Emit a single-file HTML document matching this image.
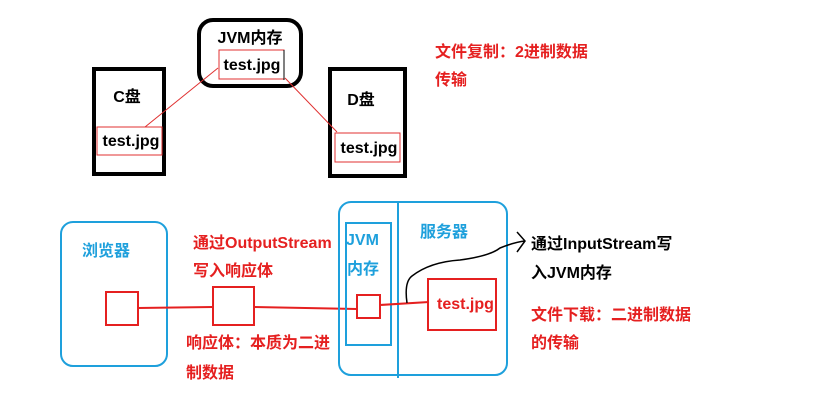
<!DOCTYPE html>
<html><head><meta charset="utf-8"><style>
body{margin:0;width:839px;height:407px;background:#fff;overflow:hidden}
svg text{font-family:"Liberation Sans","Noto Sans CJK SC",sans-serif;font-weight:bold}
</style></head><body>
<svg width="839" height="407" xmlns="http://www.w3.org/2000/svg">
<rect x="199" y="20" width="102" height="66" rx="14" fill="none" stroke="#000" stroke-width="4"/>
<text x="250" y="43" font-size="16" text-anchor="middle">JVM内存</text>
<rect x="219" y="50" width="65" height="29" fill="none" stroke="#e03030" stroke-width="1"/>
<line x1="284" y1="50" x2="284" y2="80" stroke="#000" stroke-width="1"/>
<text x="252" y="70" font-size="16" text-anchor="middle">test.jpg</text>

<rect x="94" y="69" width="70" height="105" fill="none" stroke="#000" stroke-width="4"/>
<text x="127" y="102" font-size="16" text-anchor="middle">C盘</text>
<rect x="97" y="127" width="65" height="28" fill="none" stroke="#e03030" stroke-width="1"/>
<text x="131" y="146" font-size="16" text-anchor="middle">test.jpg</text>

<rect x="330" y="69" width="75" height="107" fill="none" stroke="#000" stroke-width="4"/>
<text x="361" y="105" font-size="16" text-anchor="middle">D盘</text>
<rect x="335" y="133" width="65" height="29" fill="none" stroke="#e03030" stroke-width="1"/>
<text x="369" y="153" font-size="16" text-anchor="middle">test.jpg</text>

<line x1="218" y1="68" x2="145" y2="127" stroke="#e03030" stroke-width="1"/>
<line x1="285" y1="78" x2="337" y2="132" stroke="#e03030" stroke-width="1"/>

<text x="435" y="57" font-size="16" fill="#e52020">文件复制：2进制数据</text>
<text x="435" y="85" font-size="16" fill="#e52020">传输</text>

<rect x="61" y="222" width="106" height="144" rx="12" fill="none" stroke="#1ea0dc" stroke-width="2"/>
<text x="82" y="256" font-size="16" fill="#1ea0dc">浏览器</text>
<rect x="106" y="292" width="32" height="33" fill="none" stroke="#e52020" stroke-width="2"/>
<rect x="213" y="287" width="41" height="38" fill="none" stroke="#e52020" stroke-width="2"/>
<line x1="138" y1="308" x2="213" y2="307" stroke="#e52020" stroke-width="2"/>
<line x1="254" y1="307" x2="357" y2="309" stroke="#e52020" stroke-width="2"/>
<text x="193" y="248" font-size="16" fill="#e52020">通过OutputStream</text>
<text x="193" y="276" font-size="16" fill="#e52020">写入响应体</text>
<text x="186" y="348" font-size="16" fill="#e52020">响应体：本质为二进</text>
<text x="186" y="378" font-size="16" fill="#e52020">制数据</text>

<rect x="339" y="202" width="168" height="173" rx="12" fill="none" stroke="#1ea0dc" stroke-width="2"/>
<line x1="398" y1="202" x2="398" y2="378" stroke="#1ea0dc" stroke-width="2"/>
<rect x="346" y="223" width="45" height="122" fill="none" stroke="#1ea0dc" stroke-width="2"/>
<text x="346" y="245" font-size="16" fill="#1ea0dc">JVM</text>
<text x="347" y="274" font-size="16" fill="#1ea0dc">内存</text>
<text x="420" y="237" font-size="16" fill="#1ea0dc">服务器</text>
<rect x="357" y="295" width="23" height="23" fill="none" stroke="#e52020" stroke-width="2"/>
<line x1="380" y1="305" x2="429" y2="302" stroke="#e52020" stroke-width="2"/>
<rect x="428" y="279" width="68" height="51" fill="none" stroke="#e52020" stroke-width="2"/>
<text x="437" y="309" font-size="16" fill="#e52020">test.jpg</text>

<path d="M407 303 Q404 282 412 276 Q430 262 460 260 Q490 256 500 248 Q515 242 525 241" fill="none" stroke="#000" stroke-width="1.5"/>
<path d="M517 232 L525 241 L517 252" fill="none" stroke="#000" stroke-width="1.5"/>
<text x="531" y="249" font-size="16">通过InputStream写</text>
<text x="531" y="278" font-size="16">入JVM内存</text>
<text x="531" y="320" font-size="16" fill="#e52020">文件下载：二进制数据</text>
<text x="531" y="348" font-size="16" fill="#e52020">的传输</text>
</svg>
</body></html>
